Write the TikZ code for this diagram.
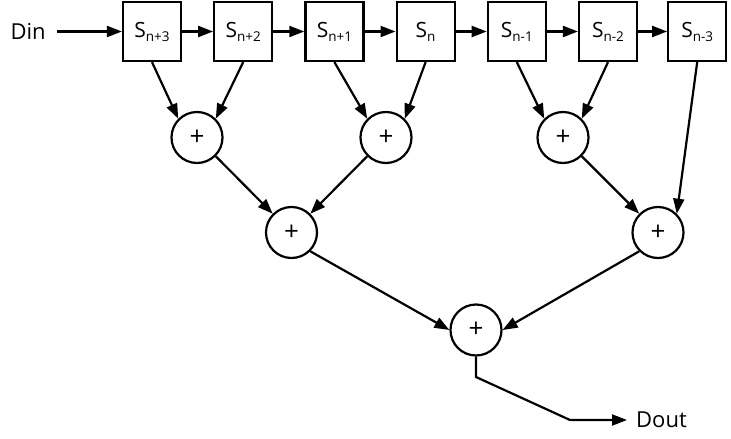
\documentclass[tikz,border=0pt]{standalone}
\usepackage{fontspec}
\setmainfont{Open Sans}
\usetikzlibrary{arrows.meta,positioning}
\tikzset{
  regbox/.style={draw,line width=2.2pt,minimum width=58pt,minimum height=59pt,
    inner sep=0pt,font=\fontsize{21}{23}\selectfont},
  adder/.style={draw,circle,line width=2.2pt,minimum size=51pt,inner sep=0pt,
    font=\fontsize{26}{28}\selectfont},
  wire/.style={line width=2.2pt,-{Triangle[length=15pt,width=11pt]}}
}
\newcommand{\regname}[1]{S\raisebox{-4pt}{\fontsize{13.5}{14}\selectfont #1}}

\begin{document}
\begin{tikzpicture}[x=1pt,y=-1pt,node distance=31pt]

        \useasboundingbox (0,0) rectangle (731,439);

        \node[regbox] (sp3) at (152,31.5) {\regname{n+3}};
        \node[regbox,right=of sp3] (sp2) {\regname{n+2}};
        \node[regbox,right=of sp2] (sp1) {\regname{n+1}};
        \node[regbox,right=of sp1] (sn) {\regname{n}};
        \node[regbox,right=of sn] (sm1) {\regname{n-1}};
        \node[regbox,right=of sm1] (sm2) {\regname{n-2}};
        \node[regbox,right=29pt of sm2] (sm3) {\regname{n-3}};

        \node[inner sep=0pt,left=76pt of sp3,
          font=\fontsize{22}{24}\selectfont] (din) {Din};

        \node[adder] (addA) at (197,137.5) {+};
        \node[adder] (addB) at (386,137.5) {+};
        \node[adder] (addC) at (563,137.5) {+};
        \node[adder] (addD) at (291.5,232.5) {+};
        \node[adder] (addE) at (658,232.5) {+};
        \node[adder] (addOut) at (476,330) {+};

        \coordinate (bendA) at (476,377);
        \coordinate (bendB) at (570,420);

        \node[anchor=west,inner sep=0pt,
          font=\fontsize{22}{24}\selectfont]
          (dout) at (636,420) {Dout};

        \draw[wire,shorten <=11pt] (din) -- (sp3);
        \draw[wire] (sp3) -- (sp2);
        \draw[wire] (sp2) -- (sp1);
        \draw[wire] (sp1) -- (sn);
        \draw[wire] (sn) -- (sm1);
        \draw[wire] (sm1) -- (sm2);
        \draw[wire] (sm2) -- (sm3);

        \draw[wire] (sp3.south) -- (addA.north west);
        \draw[wire] (sp2.south) -- (addA.north east);
        \draw[wire] (sp1.south) -- (addB.north west);
        \draw[wire] (sn.south) -- (addB.north east);
        \draw[wire] (sm1.south) -- (addC.north west);
        \draw[wire] (sm2.south) -- (addC.north east);
        \draw[wire] (sm3.south) -- (addE.north east);

        \draw[wire] (addA.south east) -- (addD.north west);
        \draw[wire] (addB.south west) -- (addD.north east);
        \draw[wire] (addC.south east) -- (addE.north west);

        \draw[wire] (addD.south east) -- (addOut.west);
        \draw[wire] (addE.south west) -- (addOut.east);

        \draw[wire,shorten >=9pt] (addOut.south) -- (bendA) -- (bendB) -- (dout.west);

      \end{tikzpicture}
\end{document}
